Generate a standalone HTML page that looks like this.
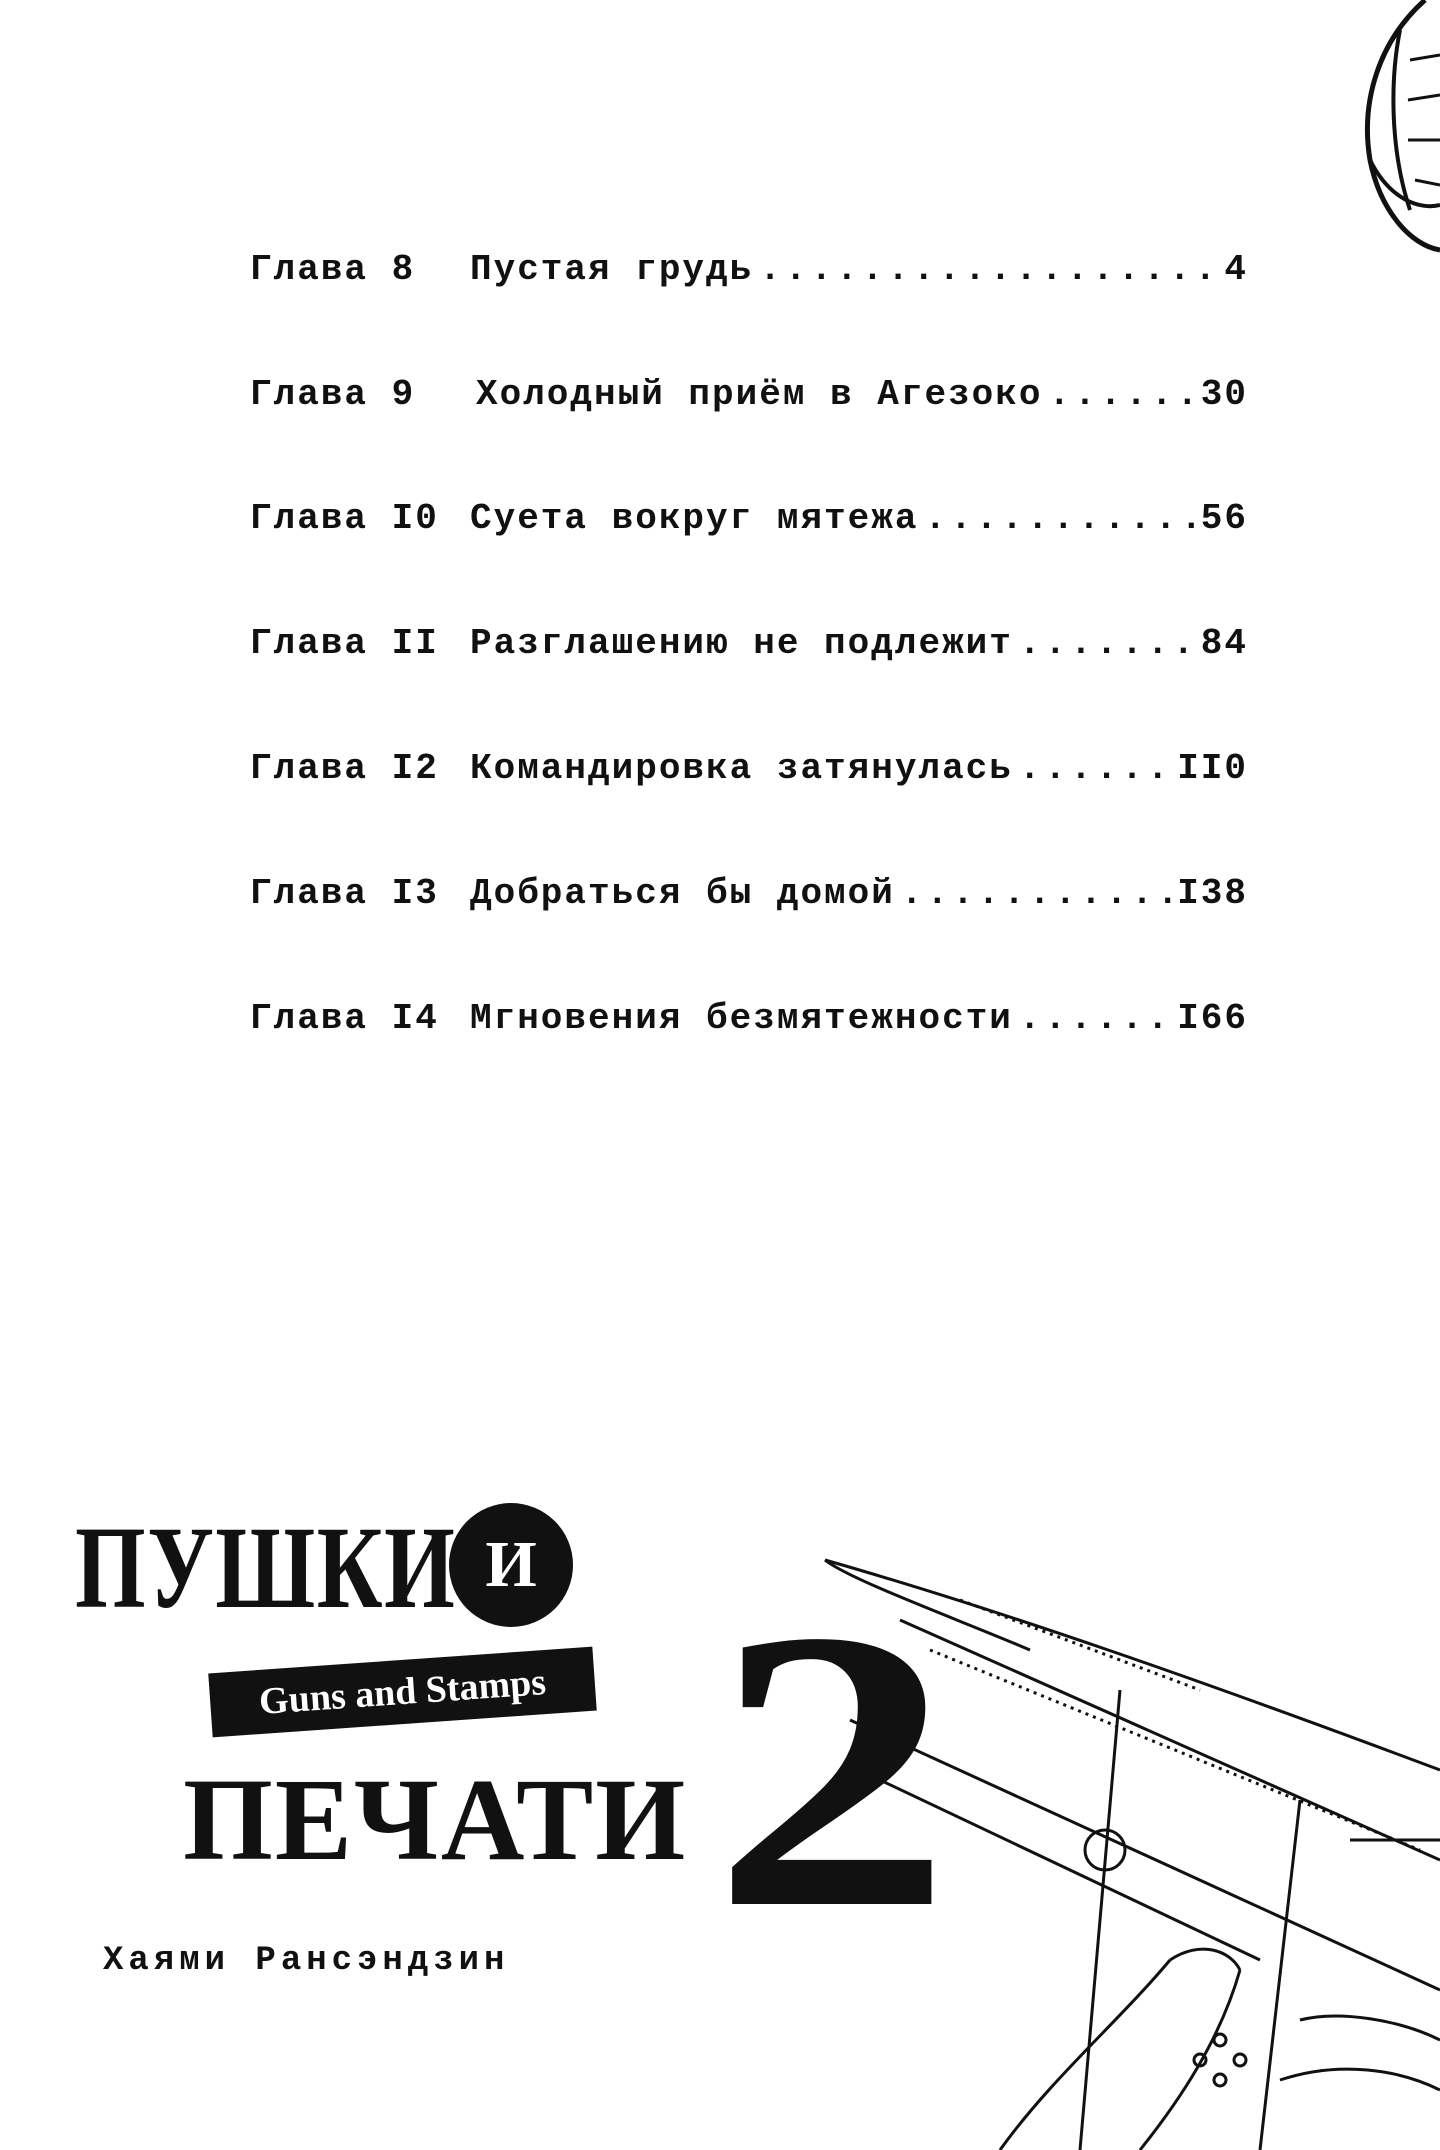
<!DOCTYPE html>
<html><head><meta charset="utf-8"><style>
html,body{margin:0;padding:0;background:#fff;}
body{width:1440px;height:2150px;position:relative;overflow:hidden;font-family:"Liberation Mono",monospace;color:#111;}
.row{position:absolute;left:250px;width:998px;height:44px;font-weight:bold;font-size:36px;letter-spacing:2px;white-space:nowrap;display:flex;align-items:center;}
.row .ch{width:220px;flex:none;}
.row .dots{flex:1;overflow:hidden;margin:0 6px;letter-spacing:4px;}
.row .dots:before{content:"..................................................................";}
.big{position:absolute;font-family:"Liberation Serif",serif;font-weight:bold;color:#111;transform-origin:left top;letter-spacing:2px;}
</style></head><body>

<div class="row" style="top:247px"><span class="ch">Глава 8</span><span>Пустая грудь</span><span class="dots"></span><span>4</span></div>
<div class="row" style="top:372px"><span class="ch">Глава 9</span><span style="margin-left:6px">Холодный приём в Агезоко</span><span class="dots"></span><span>30</span></div>
<div class="row" style="top:496px"><span class="ch">Глава I0</span><span>Суета вокруг мятежа</span><span class="dots"></span><span>56</span></div>
<div class="row" style="top:621px"><span class="ch">Глава II</span><span>Разглашению не подлежит</span><span class="dots"></span><span>84</span></div>
<div class="row" style="top:746px"><span class="ch">Глава I2</span><span>Командировка затянулась</span><span class="dots"></span><span>II0</span></div>
<div class="row" style="top:871px"><span class="ch">Глава I3</span><span>Добраться бы домой</span><span class="dots"></span><span>I38</span></div>
<div class="row" style="top:996px"><span class="ch">Глава I4</span><span>Мгновения безмятежности</span><span class="dots"></span><span>I66</span></div>

<svg style="position:absolute;left:1330px;top:0" width="110" height="260" viewBox="0 0 110 260">
<path d="M95 0 C50 40 30 100 40 160 C50 210 80 245 110 250" fill="none" stroke="#111" stroke-width="5"/>
<path d="M70 30 C60 80 60 150 80 210" fill="none" stroke="#111" stroke-width="4"/>
<path d="M80 60 L110 55 M78 100 L110 95 M78 140 L110 140 M85 180 L110 185" stroke="#111" stroke-width="3"/>
<path d="M40 160 C60 200 90 210 110 205" fill="none" stroke="#111" stroke-width="4"/>
</svg>

<svg style="position:absolute;left:700px;top:1540px" width="740" height="610" viewBox="0 0 740 610">
<g fill="none" stroke="#111" stroke-width="3">
<path d="M125 20 C300 70 500 140 740 230"/>
<path d="M125 20 C150 40 260 80 330 110"/>
<path d="M200 80 L740 320"/>
<path d="M150 180 L740 450"/>
<path d="M180 240 L560 420"/>
<path d="M420 150 L380 610"/>
<path d="M600 260 L560 610"/>
<path d="M650 300 L740 300"/>
<circle cx="405" cy="310" r="20"/>
<path d="M470 420 C420 480 350 540 300 610"/>
<path d="M540 430 C520 500 480 560 440 610"/>
<path d="M470 420 C500 400 530 410 540 430"/>
<path d="M600 480 C640 470 700 480 740 500"/>
<path d="M580 540 C640 520 700 530 740 550"/>
<circle cx="520" cy="500" r="6"/><circle cx="540" cy="520" r="6"/><circle cx="500" cy="520" r="6"/><circle cx="520" cy="540" r="6"/>
<path d="M230 110 L720 310" stroke-dasharray="3 5"/>
<path d="M260 60 L500 150" stroke-dasharray="3 5"/>
</g>
</svg>

<div class="big" style="left:75px;top:1500px;font-size:118px;transform:scaleX(0.77);">ПУШКИ</div>
<div style="position:absolute;left:449px;top:1503px;width:124px;height:124px;border-radius:50%;background:#111;color:#fff;font-family:'Liberation Serif',serif;font-weight:bold;font-size:66px;text-align:center;line-height:124px;">И</div>
<div style="position:absolute;left:210px;top:1660px;width:385px;height:64px;background:#111;color:#fff;transform:rotate(-4deg);font-family:'Liberation Serif',serif;font-weight:bold;font-size:38px;line-height:64px;text-align:center;">Guns and Stamps</div>
<div class="big" style="left:183px;top:1752px;font-size:118px;transform:scaleX(0.98);">ПЕЧАТИ</div>
<div style="position:absolute;left:712px;top:1570px;font-family:'Liberation Serif',serif;font-weight:bold;font-size:400px;line-height:400px;color:#111;transform:scaleX(1.2);transform-origin:left top;">2</div>
<div style="position:absolute;left:103px;top:1942px;font-weight:bold;font-size:34px;letter-spacing:5px;">Хаями Рансэндзин</div>
</body></html>
